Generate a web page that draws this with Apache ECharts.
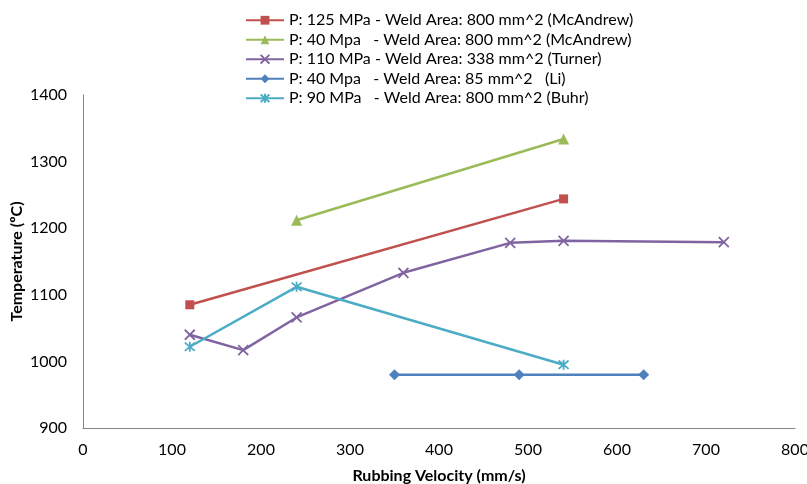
<!DOCTYPE html>
<html>
<head>
<meta charset="utf-8">
<script src="https://cdn.jsdelivr.net/npm/echarts@6/dist/echarts.min.js"></script>
<style>
  html, body { margin: 0; padding: 0; background: #fff; }
  #chart { width: 807px; height: 484px; }
</style>
</head>
<body>
<div id="chart"></div>
<script>
// series data: [rubbing velocity mm/s, temperature ºC]
const mcAndrew125 = [[120, 1085], [540, 1244]]
const mcAndrew40 = [[240, 1212], [540, 1334]]
const turner110 = [[120, 1040], [180, 1017], [240, 1066], [360, 1133], [480, 1178], [540, 1181], [720, 1179]]
const li40 = [[350, 980], [490, 980], [630, 980]]
const buhr90 = [[120, 1022], [240, 1112], [540, 995]]

const seriesNames = [
  'P: 125 MPa - Weld Area: 800 mm^2 (McAndrew)',
  'P: 40 Mpa   - Weld Area: 800 mm^2 (McAndrew)',
  'P: 110 MPa - Weld Area: 338 mm^2 (Turner)',
  'P: 40 Mpa   - Weld Area: 85 mm^2   (Li)',
  'P: 90 MPa   - Weld Area: 800 mm^2 (Buhr)'
]

const font = 'Lato, "Open Sans", sans-serif'

// 折线 + 标记
const makeSeries = (name, data, color, symbol, size, stroke) => ({
  name,
  type: 'line',
  data,
  symbol,
  symbolSize: size,
  showSymbol: true,
  lineStyle: { color, width: 2.5 },
  itemStyle: stroke
    ? { color: 'rgba(0,0,0,0)', borderColor: color, borderWidth: 1.8 }
    : { color, borderWidth: 0 },
  emphasis: { disabled: true }
})

const chart = echarts.init(document.getElementById('chart'))

chart.setOption({
  animation: false,
  textStyle: { fontFamily: font },
  legend: {
    orient: 'vertical',
    left: 240,
    top: 7,
    itemGap: 3,
    itemWidth: 38,
    itemHeight: 11,
    textStyle: { fontSize: 16, color: '#000', fontFamily: font, lineHeight: 16.5 },
    data: seriesNames
  },
  grid: { left: 83, right: 12, top: 95, bottom: 56, outerBoundsMode: 'none' },
  xAxis: {
    type: 'value',
    min: 0,
    max: 800,
    interval: 100,
    name: 'Rubbing Velocity (mm/s)',
    nameLocation: 'middle',
    nameGap: 40,
    nameTextStyle: { fontSize: 16, fontWeight: 'bold', color: '#000', fontFamily: font },
    axisLine: { show: true, lineStyle: { color: '#868686', width: 1 } },
    axisTick: { show: false },
    splitLine: { show: false },
    axisLabel: { fontSize: 16, color: '#000', margin: 14, fontFamily: font }
  },
  yAxis: {
    type: 'value',
    min: 900,
    max: 1400,
    interval: 100,
    name: 'Temperature (ºC)',
    nameLocation: 'middle',
    nameGap: 58,
    nameMoveOverlap: false,
    nameTextStyle: { fontSize: 16, fontWeight: 'bold', color: '#000', fontFamily: font },
    axisLine: { show: true, lineStyle: { color: '#868686', width: 1 } },
    axisTick: { show: false },
    splitLine: { show: false },
    axisLabel: { fontSize: 16, color: '#000', margin: 16, fontFamily: font, formatter: v => String(v) }
  },
  series: [
    makeSeries(seriesNames[0], mcAndrew125, '#C0504D', 'rect', 9),
    makeSeries(seriesNames[1], mcAndrew40, '#9BBB59', 'triangle', 11),
    makeSeries(seriesNames[2], turner110, '#8064A2', 'path://M0,0L10,10M10,0L0,10', 10, true),
    makeSeries(seriesNames[3], li40, '#4F81BD', 'diamond', 11),
    makeSeries(seriesNames[4], buhr90, '#4BACC6', 'path://M0,0L10,10M10,0L0,10M5,-1L5,11', 10, true)
  ]
})

window.addEventListener('resize', () => chart.resize())
</script>
</body>
</html>
